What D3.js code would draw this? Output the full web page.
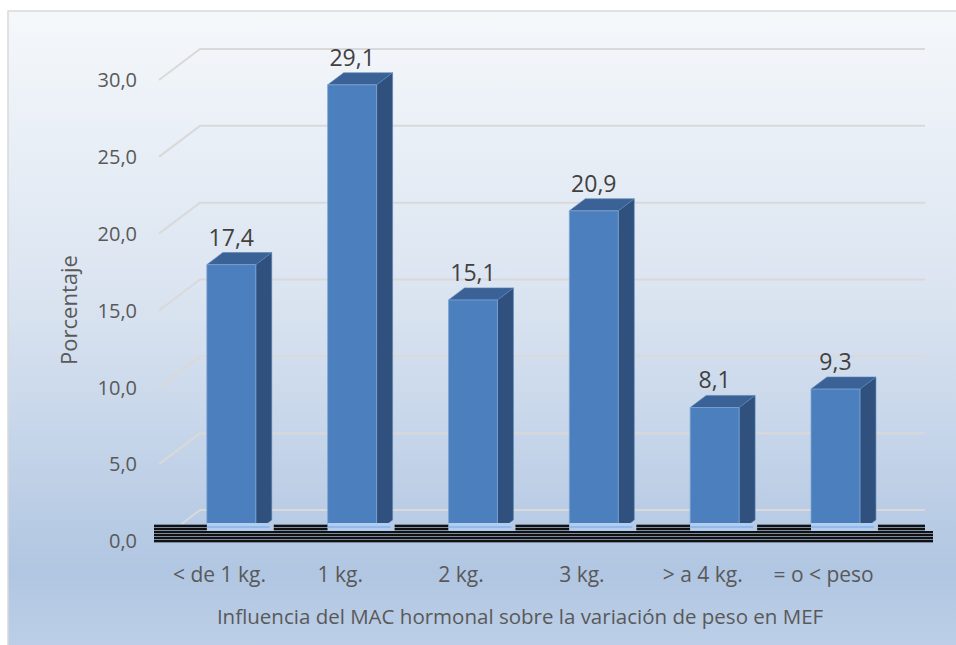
<!DOCTYPE html>
<html>
<head>
<meta charset="utf-8">
<script src="https://cdn.jsdelivr.net/npm/d3@7"></script>
<style>
  body { margin: 0; background: #fff; }
  text { font-family: "Open Sans", sans-serif; }
</style>
</head>
<body>
<div id="container"></div>
<script>
// Chart data
var categories = ['< de 1 kg.', '1 kg.', '2 kg.', '3 kg.', '> a 4 kg.', '= o < peso'];
var values = [17.4, 29.1, 15.1, 20.9, 8.1, 9.3];
var yTicks = [0, 5, 10, 15, 20, 25, 30];
var yTitle = 'Porcentaje';
var xTitle = 'Influencia del MAC hormonal sobre la variación de peso en MEF';

// Size variables
var width = 956, height = 645;
var frontLeft = 159, frontRight = 884;
var depthX = 41, depthY = 31;      // offset of the back wall
var barFront = 0.29, barBack = 0.68; // depth of bar faces (0 = front, 1 = back)
var floorTop = 523;

var fmt = d3.formatLocale({decimal: ',', thousands: '.', grouping: [3], currency: ['', '']}).format('.1f');

var svg = d3.select('#container')
    .append('svg')
    .attr('width', width)
    .attr('height', height);

// background gradient
var defs = svg.append('defs');
var grad = defs.append('linearGradient')
    .attr('id', 'bg')
    .attr('x1', 0).attr('y1', 0).attr('x2', 0).attr('y2', 1);
grad.append('stop').attr('offset', '0%').attr('stop-color', '#f5f8fb');
grad.append('stop').attr('offset', '45%').attr('stop-color', '#d9e3f0');
grad.append('stop').attr('offset', '85%').attr('stop-color', '#b1c6e2');
grad.append('stop').attr('offset', '100%').attr('stop-color', '#c0d2e9');

// striped floor pattern
var pat = defs.append('pattern')
    .attr('id', 'stripes')
    .attr('patternUnits', 'userSpaceOnUse')
    .attr('width', 8).attr('height', 3);
pat.append('rect').attr('width', 8).attr('height', 3).attr('fill', '#7b8aa0');
pat.append('rect').attr('width', 8).attr('height', 2).attr('fill', '#111');

svg.append('rect')
    .attr('x', 8).attr('y', 11)
    .attr('width', 970).attr('height', 660)
    .attr('fill', 'url(#bg)')
    .attr('stroke', '#d9d9d9')
    .attr('stroke-width', 1.5);

// scales
var xScale = d3.scaleBand()
    .domain(categories)
    .range([frontLeft, frontRight]);

var yScale = d3.scaleLinear()
    .domain([0, 30])
    .range([541, 80]);

function proj(x, v, d) {
    return [x + depthX * d, yScale(v) - depthY * d];
}

// gridlines: side wall diagonal + back wall
var grid = svg.append('g');
yTicks.forEach(function (t) {
    var a = proj(frontLeft, t, 0), b = proj(frontLeft, t, 1), c = proj(frontRight, t, 1);
    grid.append('polyline')
        .attr('points', [a, b, c].map(function (p) { return p.join(','); }).join(' '))
        .attr('fill', 'none')
        .attr('stroke', '#d9d9d9')
        .attr('stroke-width', 2);
});

// y tick labels
svg.append('g').selectAll('text')
    .data(yTicks)
    .enter()
    .append('text')
    .attr('x', 137)
    .attr('y', function (d) { return yScale(d); })
    .attr('dy', '0.36em')
    .attr('text-anchor', 'end')
    .attr('font-size', 20)
    .attr('fill', '#595959')
    .text(function (d) { return fmt(d); });

// bars
var barW = xScale.bandwidth() * 0.405;
function barLeft(c) { return xScale(c) + (xScale.bandwidth() - barW) / 2; }

var bars = svg.append('g').selectAll('g')
    .data(values)
    .enter()
    .append('g');

function poly(pts) { return pts.map(function (p) { return p.join(','); }).join(' '); }

// side face
bars.append('polygon')
    .attr('points', function (d, i) {
        var x = barLeft(categories[i]) + barW;
        return poly([proj(x, d, barFront), proj(x, d, barBack), proj(x, 0, barBack), proj(x, 0, barFront)]);
    })
    .attr('fill', '#30517d')
    .attr('stroke', '#5b84b8')
    .attr('stroke-width', 0.6);

// top face
bars.append('polygon')
    .attr('points', function (d, i) {
        var x = barLeft(categories[i]);
        return poly([proj(x, d, barFront), proj(x, d, barBack), proj(x + barW, d, barBack), proj(x + barW, d, barFront)]);
    })
    .attr('fill', '#3a6296')
    .attr('stroke', '#5b84b8')
    .attr('stroke-width', 0.6);

// front face
bars.append('polygon')
    .attr('points', function (d, i) {
        var x = barLeft(categories[i]);
        return poly([proj(x, d, barFront), proj(x + barW, d, barFront), proj(x + barW, 0, barFront), proj(x, 0, barFront)]);
    })
    .attr('fill', '#4c7fbd')
    .attr('stroke', '#7ea4d3')
    .attr('stroke-width', 0.8);

// floor (striped band)
var floor = svg.append('g');
floor.append('rect')
    .attr('x', 154).attr('y', 531)
    .attr('width', 933 - 154).attr('height', 12)
    .attr('fill', 'url(#stripes)');
categories.forEach(function (c, i) {
    var x = barLeft(c) + depthX * barFront;
    // light strip under each bar
    floor.append('rect')
        .attr('x', x).attr('y', floorTop)
        .attr('width', barW + 14).attr('height', 8)
        .attr('fill', '#b3cdee');
    floor.append('line')
        .attr('x1', x).attr('x2', x + barW + 14)
        .attr('y1', floorTop + 4).attr('y2', floorTop + 4)
        .attr('stroke', '#86b3ea').attr('stroke-width', 1.5);
    // stripes between bars
    var next = i < categories.length - 1 ? barLeft(categories[i + 1]) + depthX * barFront : 925;
    floor.append('rect')
        .attr('x', x + barW + 18).attr('y', floorTop + 1)
        .attr('width', next - (x + barW + 18)).attr('height', 8)
        .attr('fill', 'url(#stripes)');
});
floor.append('rect')
    .attr('x', 154).attr('y', floorTop + 1)
    .attr('width', barLeft(categories[0]) + depthX * barFront - 154).attr('height', 8)
    .attr('fill', 'url(#stripes)');

// value labels
svg.append('g').selectAll('text')
    .data(values)
    .enter()
    .append('text')
    .attr('x', function (d, i) { return barLeft(categories[i]) + depthX * barFront + barW / 2; })
    .attr('y', function (d) { return proj(0, d, barBack)[1] - 7; })
    .attr('text-anchor', 'middle')
    .attr('font-size', 23)
    .attr('fill', '#404040')
    .text(function (d) { return fmt(d); });

// category labels
svg.append('g').selectAll('text')
    .data(categories)
    .enter()
    .append('text')
    .attr('x', function (d) { return xScale(d) + xScale.bandwidth() / 2; })
    .attr('y', 582)
    .attr('text-anchor', 'middle')
    .attr('font-size', 21)
    .attr('fill', '#595959')
    .text(function (d) { return d; });

// axis titles
svg.append('text')
    .attr('transform', 'translate(77, 310) rotate(-90)')
    .attr('text-anchor', 'middle')
    .attr('font-size', 22)
    .attr('fill', '#595959')
    .text(yTitle);

svg.append('text')
    .attr('x', 520)
    .attr('y', 624)
    .attr('text-anchor', 'middle')
    .attr('font-size', 20.5)
    .attr('fill', '#595959')
    .text(xTitle);
</script>
</body>
</html>
